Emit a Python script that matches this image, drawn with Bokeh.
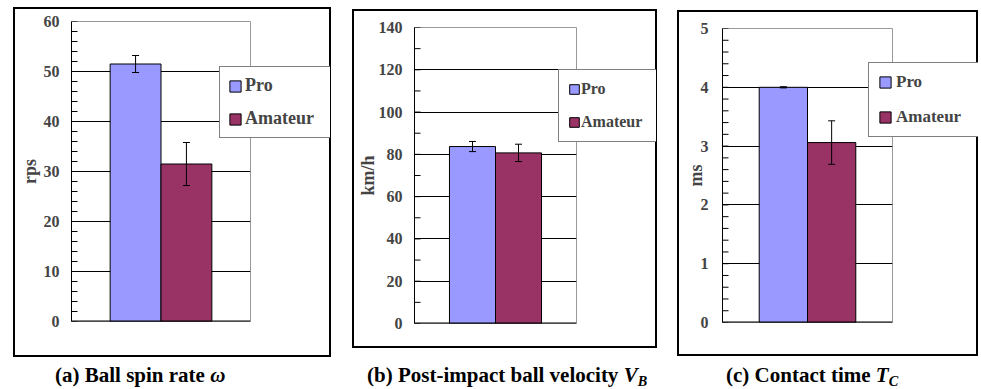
from bokeh.plotting import figure
from bokeh.models import (ColumnDataSource, FactorRange, Range1d, SingleIntervalTicker,
                          Whisker, TeeHead, Legend, LegendItem, Span, Div)
from bokeh.transform import dodge
from bokeh.layouts import row, column
from bokeh.embed import file_html
from bokeh.resources import INLINE

# ---- data ----
groups = ["Pro", "Amateur"]
colors = ["#9999FF", "#993366"]

spin_mean = [51.5, 31.5]      # rps
spin_err = [1.7, 4.3]
vel_mean = [83.7, 80.7]       # km/h
vel_err = [2.4, 4.1]
ct_mean = [4.0, 3.06]         # ms
ct_err = [0.01, 0.37]

y_labels = ["rps", "km/h", "ms"]
y_max = [60, 140, 5]
major_step = [10, 20, 1]
minor_count = [5, 2, 5]
SUB = "<sub style='font-size:0.68em;vertical-align:-0.3em;line-height:0'>"
captions = [
    "(a) Ball spin rate <i>&omega;</i>",
    f"(b) Post-impact ball velocity <i>V{SUB}B</sub></i>",
    f"(c) Contact time <i>T{SUB}C</sub></i>",
]

FONT = "Liberation Serif"
PAD = 0.76   # category-axis padding on each side (in bar widths)

# ---- layout / style per panel (page pixels; Bokeh's page has no body margin) ----
geoms = [
    dict(x0=0, px=15, py=9, w=314, h=346, mbl=56, mbr=79, mbt=12, mbb=34,
         leg=(219, 67, 110, 71), lpad=8, lsp=12, lfs=18, glyph=14, lso=3,
         dw=330, dmt=9, cap=55, als=1, tls=12),
    dict(x0=330, px=354, py=11, w=301, h=335, mbl=58, mbr=79, mbt=16, mbb=23,
         leg=(558, 71, 97, 71), lpad=9, lsp=13, lfs=16, glyph=12, lso=1,
         dw=326, dmt=18, cap=37, als=-2, tls=12),
    dict(x0=656, px=679, py=12, w=297, h=342, mbl=43, mbr=84, mbt=16, mbb=32,
         leg=(868, 63, 109, 74), lpad=9, lsp=15, lfs=17, glyph=14, lso=4,
         dw=322, dmt=10, cap=70, als=-8, tls=14),
]


def make_panel(means, errs, ylabel, ymax, step, nminor, g, caption):
    src = ColumnDataSource(dict(
        x=groups, top=means,
        upper=[m + e for m, e in zip(means, errs)],
        lower=[m - e for m, e in zip(means, errs)],
        color=colors,
    ))
    p = figure(x_range=FactorRange(*groups, range_padding=PAD, range_padding_units="absolute"),
               y_range=Range1d(0, ymax), width=g["w"], height=g["h"],
               output_backend="svg", toolbar_location=None, x_axis_location=None,
               min_border_left=g["mbl"], min_border_right=g["mbr"],
               min_border_top=g["mbt"], min_border_bottom=g["mbb"],
               margin=(g["py"], 0, 0, g["px"] - g["x0"]))
    # the chart's outer box
    p.styles = {"outline": "2px solid #000000", "outline-offset": "0px"}
    p.background_fill_color = "white"
    p.border_fill_color = "white"
    p.outline_line_color = "#999999"
    p.outline_line_width = 1

    r = p.vbar(x="x", top="top", width=1.0, source=src, fill_color="color",
               line_color="#000000", line_width=1)

    wh = Whisker(base="x", upper="upper", lower="lower", source=src,
                 line_color="black", line_width=1, level="overlay",
                 upper_head=TeeHead(size=7, line_color="black", line_width=1),
                 lower_head=TeeHead(size=7, line_color="black", line_width=1))
    p.add_layout(wh)

    # baseline of the category axis
    p.add_layout(Span(location=0, dimension="width", line_color="black", line_width=2))

    # y axis
    p.yaxis.ticker = SingleIntervalTicker(interval=step, num_minor_ticks=nminor)
    p.yaxis.axis_label = ylabel
    p.yaxis.axis_label_text_font = FONT
    p.yaxis.axis_label_text_font_style = "bold"
    p.yaxis.axis_label_text_font_size = "18px"
    p.yaxis.axis_label_standoff = g["als"]
    p.yaxis.major_label_text_font = FONT
    p.yaxis.major_label_text_font_style = "bold"
    p.yaxis.major_label_text_font_size = "16px"
    p.yaxis.major_label_standoff = g["tls"]
    p.yaxis.axis_line_color = "black"
    p.yaxis.axis_line_width = 1
    p.yaxis.major_tick_in = 0
    p.yaxis.major_tick_out = 0
    p.yaxis.minor_tick_in = 0
    p.yaxis.minor_tick_out = 0

    # inward tick marks on the value axis: dashes centred on the frame's left edge
    n_ticks = int(round(ymax * nminor / step)) + 1
    tick_src = ColumnDataSource(dict(cat=[groups[0]] * n_ticks,
                                     y=[k * step / nminor for k in range(n_ticks)]))
    p.scatter(x=dodge("cat", -(0.5 + PAD), range=p.x_range), y="y", source=tick_src,
              marker="dash", size=12, line_color="black", line_width=1)

    p.xgrid.visible = False
    p.ygrid.grid_line_color = "black"
    p.ygrid.grid_line_width = 1

    # legend lives in a transparent overlay figure sharing the chart's vertical frame
    lx, ly, lw, lh = g["leg"]
    p_right = g["px"] + g["w"]
    frame_bottom = g["py"] + g["h"] - g["mbb"]
    lf = figure(x_range=FactorRange(*groups), y_range=Range1d(0, ymax),
                width=lw + 2, height=g["h"], output_backend="svg", toolbar_location=None,
                x_axis_location=None, y_axis_location=None,
                min_border_left=0, min_border_right=0,
                min_border_top=g["mbt"], min_border_bottom=g["mbb"],
                margin=(g["py"], 0, 0, lx - 1 - p_right))
    lf.grid.visible = False
    lf.outline_line_color = None
    lf.background_fill_alpha = 0
    lf.border_fill_alpha = 0
    lr = lf.vbar(x="x", top="top", width=1.0, source=src, fill_color="color",
                 line_color="#000000", line_width=1, visible=False)
    label_w = lw - 2 * g["lpad"] - g["glyph"] - g["lso"]
    legend = Legend(items=[LegendItem(label=groups[0], renderers=[lr], index=0),
                           LegendItem(label=groups[1], renderers=[lr], index=1)],
                    location=(1, frame_bottom - (ly + lh)), margin=0,
                    padding=g["lpad"], spacing=g["lsp"],
                    glyph_width=g["glyph"], glyph_height=g["glyph"],
                    label_standoff=g["lso"], label_width=label_w, label_height=20,
                    label_text_font=FONT, label_text_font_style="bold",
                    label_text_font_size=f'{g["lfs"]}px',
                    inactive_fill_alpha=0,
                    border_line_color="black", border_line_width=1,
                    background_fill_color="white", background_fill_alpha=1)
    lf.add_layout(legend)

    div = Div(text=(f"<div style=\"font-family:'{FONT}',serif;font-weight:bold;font-size:21px;"
                    f"line-height:22px;white-space:nowrap;margin:0 0 0 {g['cap']}px;color:#000\">"
                    f"{caption}</div>"),
              width=g["dw"], height=20, margin=(g["dmt"], 0, 0, 0))
    return column(row(p, lf, spacing=0), div, spacing=0)


means_all = [spin_mean, vel_mean, ct_mean]
errs_all = [spin_err, vel_err, ct_err]
cols = [make_panel(means_all[i], errs_all[i], y_labels[i], y_max[i], major_step[i],
                   minor_count[i], geoms[i], captions[i]) for i in range(3)]
layout = row(*cols, spacing=0)

open("out.html", "w").write(file_html(layout, INLINE))
